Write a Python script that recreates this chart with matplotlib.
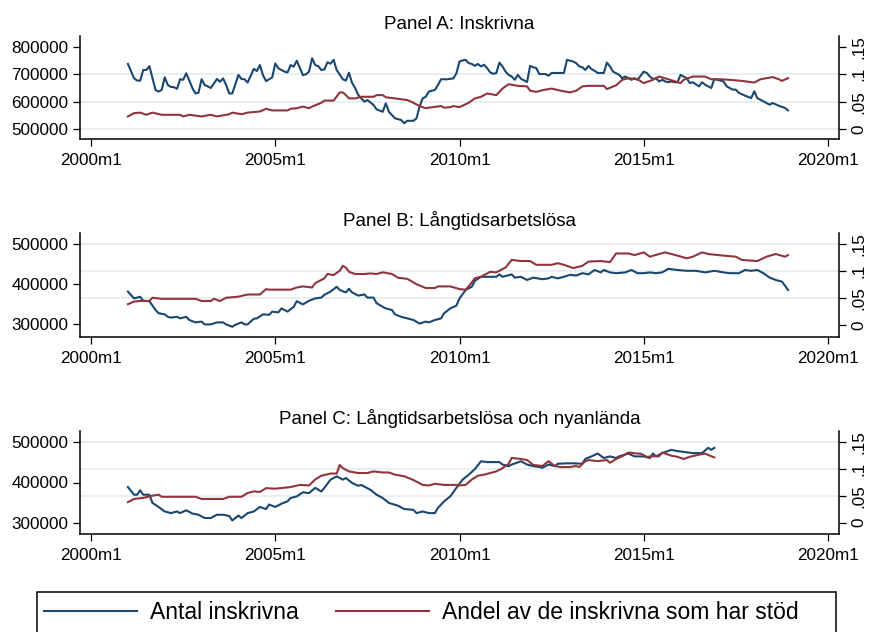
import matplotlib
matplotlib.use('Agg')
import matplotlib.pyplot as plt
from matplotlib.lines import Line2D
from matplotlib.patches import Rectangle

plt.rcParams['font.family'] = ['Liberation Sans', 'DejaVu Sans']

# months counted from 2001m1, counts in thousands, shares as fractions
a_count = [(0, 738), (2, 686), (3, 677), (4, 677), (5, 716), (6, 716), (7, 730), (9, 643), (10, 637),
           (11, 643), (12, 689), (13, 661), (14, 654), (15, 653), (16, 647), (17, 682), (18, 680),
           (19, 704), (21, 650), (22, 630), (23, 633), (24, 682), (25, 661), (26, 656), (27, 650),
           (29, 683), (30, 673), (31, 685), (32, 661), (33, 630), (34, 630), (36, 698), (37, 683),
           (38, 682), (39, 670), (41, 720), (42, 712), (43, 734), (44, 697), (45, 675), (47, 689),
           (48, 740), (49, 722), (51, 710), (52, 707), (53, 734), (54, 728), (55, 750), (57, 697),
           (58, 700), (59, 710), (60, 759), (61, 734), (62, 730), (63, 716), (64, 718), (65, 744),
           (66, 739), (67, 753), (68, 716), (70, 682), (71, 677), (72, 706), (73, 669), (74, 650),
           (75, 625), (77, 600), (78, 606), (80, 588), (81, 572), (83, 563), (84, 594), (85, 563),
           (87, 539), (89, 533), (90, 521), (91, 530), (93, 530), (94, 539), (95, 582), (96, 612),
           (97, 618), (98, 637), (100, 643), (101, 661), (102, 682), (104, 682), (106, 685), (107, 704),
           (108, 747), (109, 751), (110, 753), (111, 741), (112, 738), (113, 731), (114, 738), (115, 729),
           (116, 735), (117, 723), (118, 707), (119, 702), (120, 705), (121, 743), (122, 729), (123, 710),
           (124, 698), (125, 692), (126, 680), (127, 698), (128, 684), (129, 678), (130, 672), (131, 731),
           (132, 726), (133, 723), (134, 701), (136, 701), (137, 695), (138, 705), (141, 705), (142, 705),
           (143, 753), (145, 747), (146, 741), (147, 729), (148, 726), (149, 716), (150, 731), (151, 719),
           (152, 713), (153, 705), (155, 705), (156, 743), (157, 729), (158, 710), (160, 698), (161, 686),
           (162, 692), (164, 680), (165, 686), (166, 680), (168, 710), (169, 705), (170, 692), (171, 683),
           (172, 686), (173, 674), (174, 680), (175, 674), (176, 671), (177, 674), (178, 671), (179, 671),
           (180, 698), (181, 692), (182, 686), (183, 668), (184, 671), (186, 656), (187, 671), (188, 662),
           (190, 650), (191, 683), (192, 680), (194, 674), (195, 656), (197, 644), (198, 644), (199, 632),
           (201, 622), (203, 613), (204, 638), (205, 613), (207, 601), (209, 589), (210, 595), (212, 585),
           (214, 577), (215, 568)]
a_share = [(0, .023), (2, .029), (4, .030), (6, .026), (8, .030), (11, .026), (17, .026), (18, .023),
           (20, .026), (24, .023), (27, .026), (29, .023), (33, .027), (34, .030), (37, .027), (39, .030),
           (43, .032), (45, .037), (47, .034), (52, .034), (53, .037), (55, .038), (57, .041), (59, .038),
           (60, .041), (63, .048), (64, .052), (67, .052), (69, .067), (70, .067), (71, .062), (72, .056),
           (74, .056), (76, .059), (80, .059), (81, .062), (83, .062), (84, .058), (87, .056), (91, .053),
           (93, .048), (95, .042), (97, .038), (98, .039), (102, .042), (103, .039), (105, .040), (106, .042),
           (108, .040), (111, .048), (113, .056), (115, .059), (117, .065), (120, .062), (122, .074),
           (124, .082), (127, .079), (130, .078), (131, .070), (133, .068), (135, .071), (138, .074),
           (141, .070), (144, .067), (146, .070), (148, .078), (150, .079), (155, .079), (156, .073),
           (159, .080), (161, .090), (163, .093), (166, .091), (168, .084), (171, .090), (173, .096),
           (176, .091), (180, .084), (181, .090), (184, .096), (188, .096), (190, .091), (193, .091),
           (196, .090), (200, .088), (204, .085), (206, .091), (210, .095), (212, .091), (213, .088),
           (215, .093)]

b_count = [(0, 381), (2, 364), (3, 366), (4, 368), (5, 358), (7, 357), (9, 335), (10, 327), (12, 324),
           (13, 318), (14, 316), (16, 318), (17, 314), (19, 318), (20, 310), (22, 304), (24, 306),
           (25, 299), (27, 299), (29, 304), (31, 304), (32, 299), (34, 293), (35, 298), (37, 304),
           (38, 299), (39, 299), (41, 313), (42, 314), (44, 324), (46, 323), (47, 331), (49, 329),
           (50, 339), (52, 331), (54, 343), (55, 357), (57, 349), (59, 358), (61, 364), (63, 366),
           (64, 373), (66, 381), (68, 393), (69, 385), (71, 379), (72, 388), (73, 379), (75, 371),
           (77, 374), (78, 366), (80, 366), (81, 352), (83, 343), (84, 339), (86, 335), (87, 324),
           (89, 318), (91, 314), (93, 310), (95, 301), (97, 306), (98, 304), (100, 310), (102, 314),
           (103, 327), (105, 339), (107, 346), (108, 364), (110, 385), (112, 393), (113, 408), (115, 418),
           (118, 418), (120, 418), (121, 424), (122, 418), (125, 424), (126, 416), (128, 418), (130, 410),
           (132, 416), (135, 412), (137, 414), (138, 418), (140, 414), (142, 418), (144, 423), (146, 421),
           (148, 427), (150, 424), (152, 435), (154, 429), (155, 435), (157, 429), (159, 427), (162, 429),
           (164, 435), (166, 427), (168, 427), (170, 429), (172, 427), (174, 429), (176, 438), (179, 435),
           (182, 433), (185, 433), (188, 429), (191, 433), (194, 429), (196, 427), (199, 427), (201, 435),
           (203, 433), (205, 435), (207, 427), (209, 416), (211, 410), (213, 406), (214, 396), (215, 385)]
b_share = [(0, .039), (2, .044), (4, .045), (7, .045), (8, .051), (11, .049), (22, .049), (24, .045),
           (27, .045), (28, .049), (30, .045), (32, .051), (36, .053), (39, .057), (43, .057), (45, .067),
           (46, .066), (53, .066), (55, .070), (57, .072), (60, .070), (61, .078), (64, .087), (65, .095),
           (67, .093), (69, .101), (70, .110), (71, .107), (72, .099), (74, .095), (77, .095), (79, .096),
           (81, .095), (83, .098), (86, .095), (88, .088), (91, .086), (94, .076), (97, .069), (100, .069),
           (101, .072), (105, .072), (108, .067), (110, .066), (111, .072), (113, .087), (115, .090),
           (118, .099), (120, .098), (123, .107), (125, .121), (128, .119), (131, .119), (133, .112),
           (138, .112), (140, .115), (142, .112), (145, .106), (148, .110), (150, .118), (154, .119),
           (157, .117), (159, .133), (163, .133), (165, .130), (168, .135), (170, .127), (173, .132),
           (175, .135), (179, .129), (182, .124), (184, .127), (187, .135), (189, .132), (194, .129),
           (198, .127), (200, .121), (205, .119), (208, .127), (211, .132), (214, .127), (215, .130)]

c_count = [(0, 389), (2, 370), (3, 370), (4, 381), (5, 370), (7, 370), (8, 350), (10, 340), (12, 329),
           (14, 325), (16, 329), (17, 325), (19, 332), (21, 324), (23, 321), (25, 313), (27, 313),
           (29, 321), (31, 321), (33, 318), (34, 307), (36, 319), (37, 313), (39, 325), (41, 329),
           (43, 340), (45, 335), (46, 346), (48, 340), (50, 348), (52, 354), (53, 362), (55, 366),
           (57, 376), (59, 374), (61, 387), (63, 378), (64, 387), (66, 407), (68, 415), (70, 407),
           (71, 411), (73, 399), (75, 392), (76, 394), (79, 382), (81, 370), (83, 362), (85, 350),
           (88, 343), (90, 335), (93, 333), (94, 325), (96, 329), (98, 325), (100, 325), (101, 338),
           (103, 354), (105, 366), (107, 387), (109, 407), (111, 419), (113, 433), (115, 452), (117, 450),
           (120, 450), (121, 450), (122, 444), (124, 440), (125, 444), (128, 452), (130, 444), (132, 440),
           (134, 438), (135, 436), (137, 444), (139, 440), (140, 446), (143, 447), (145, 447), (148, 446),
           (149, 458), (151, 464), (153, 471), (155, 460), (157, 464), (159, 460), (160, 464), (163, 471),
           (165, 464), (168, 464), (170, 460), (171, 471), (172, 464), (174, 472), (177, 480), (179, 477),
           (182, 474), (184, 472), (187, 472), (189, 485), (190, 480), (191, 485)]
c_share = [(0, .038), (2, .044), (5, .046), (8, .050), (10, .052), (11, .048), (22, .048), (24, .044),
           (31, .044), (33, .048), (37, .048), (39, .055), (41, .058), (43, .057), (45, .064), (48, .063),
           (53, .066), (56, .070), (59, .069), (61, .080), (63, .087), (66, .091), (68, .091), (69, .107),
           (70, .101), (72, .095), (75, .092), (78, .092), (80, .095), (83, .093), (85, .093), (87, .089),
           (90, .086), (93, .079), (96, .070), (98, .069), (100, .072), (103, .070), (107, .070), (108, .069),
           (110, .070), (112, .080), (114, .087), (116, .089), (118, .092), (120, .095), (122, .101),
           (124, .109), (125, .120), (128, .118), (130, .116), (132, .107), (135, .105), (137, .114),
           (139, .105), (141, .103), (144, .103), (146, .105), (147, .103), (149, .114), (150, .116),
           (153, .114), (156, .116), (157, .111), (159, .118), (161, .123), (163, .130), (166, .128),
           (167, .128), (169, .122), (171, .123), (173, .123), (174, .130), (177, .124), (179, .122),
           (181, .118), (183, .122), (186, .126), (188, .128), (190, .123), (191, .121)]

panel_titles = ['Panel A: Inskrivna', 'Panel B: Långtidsarbetslösa',
                'Panel C: Långtidsarbetslösa och nyanlända']
legend_labels = ['Antal inskrivna', 'Andel av de inskrivna som har stöd']
count_ticks = [[500000, 600000, 700000, 800000], [300000, 400000, 500000], [300000, 400000, 500000]]
share_ticks = [0, .05, .1, .15]
share_tick_labels = ['0', '.05', '.1', '.15']
x_ticks = [480, 540, 600, 660, 720]   # stata monthly dates
x_tick_labels = ['2000m1', '2005m1', '2010m1', '2015m1', '2020m1']

blue = '#1a476f'
red = '#90353b'
grid_col = '#e6eef0'

fig = plt.figure(figsize=(8.69, 6.32), dpi=100)
W, H = 869, 632

# pixel boxes of the plot regions (top, bottom)
boxes = [(36, 139), (233, 337), (431, 534)]
count_lims = [(463400, 840300), (267500, 527500), (273800, 526200)]
share_lims = [(-0.0183, 0.1702), (-0.0217, 0.1709), (-0.0209, 0.1698)]
grid_shares = [[0, .05, .1], [.05, .1, .15], [.05, .1, .15]]
counts = [a_count, b_count, c_count]
shares = [a_share, b_share, c_share]

for i in range(3):
    top, bot = boxes[i]
    ax = fig.add_axes([80 / W, 1 - bot / H, (839 - 80) / W, (bot - top) / H])
    ax2 = ax.twinx()
    ax.patch.set_visible(False)

    ax2.set_ylim(*share_lims[i])
    ax.set_ylim(*count_lims[i])
    ax.set_xlim(476.4, 723.6)

    for s in grid_shares[i]:
        ax.plot([476.4, 723.6], [s, s], transform=ax2.transData, color=grid_col, lw=1.3, zorder=0)

    xs = [492 + m for m, v in counts[i]]
    ys = [v * 1000 for m, v in counts[i]]
    ax.plot(xs, ys, color=blue, lw=1.5, zorder=2)
    xs = [492 + m for m, v in shares[i]]
    ys = [v for m, v in shares[i]]
    ax2.plot(xs, ys, color=red, lw=1.5, zorder=2)

    ax.set_yticks(count_ticks[i])
    ax.set_yticklabels([str(t) for t in count_ticks[i]])
    ax2.set_yticks(share_ticks)
    ax2.set_yticklabels(share_tick_labels, rotation=90, va='center')
    ax.set_xticks(x_ticks)
    ax.set_xticklabels(x_tick_labels)

    for a in (ax, ax2):
        a.spines['top'].set_visible(False)
        for sp in a.spines.values():
            sp.set_linewidth(1.1)
    ax.spines['right'].set_visible(False)
    ax2.spines['left'].set_visible(False)
    ax2.spines['bottom'].set_visible(False)

    ax.tick_params(axis='both', labelsize=12.3, length=5, width=0.9, pad=3.5)
    ax.tick_params(axis='x', pad=5)
    ax2.tick_params(axis='y', labelsize=12.3, length=5, width=0.9, pad=4)

    ax.set_title(panel_titles[i], fontsize=13.5, pad=5)

# legend box runs off the bottom edge like in the original export
fig.patches.append(Rectangle((37 / W, -0.05), (836 - 37) / W, 0.05 + (632 - 592) / H,
                             transform=fig.transFigure, fill=False, edgecolor='black', lw=1.1))
handles = [Line2D([], [], color=blue, lw=1.5), Line2D([], [], color=red, lw=1.5)]
fs = 16.5
leg = fig.legend(handles, legend_labels, loc='upper left', ncol=2,
                 bbox_to_anchor=(37 / W, 1 - 594 / H), borderaxespad=0,
                 fontsize=fs, frameon=False,
                 handlelength=93 / (fs * 100 / 72), handletextpad=13 / (fs * 100 / 72),
                 columnspacing=37 / (fs * 100 / 72), borderpad=0.3)

fig.savefig('out.png', dpi=100, facecolor='white')
